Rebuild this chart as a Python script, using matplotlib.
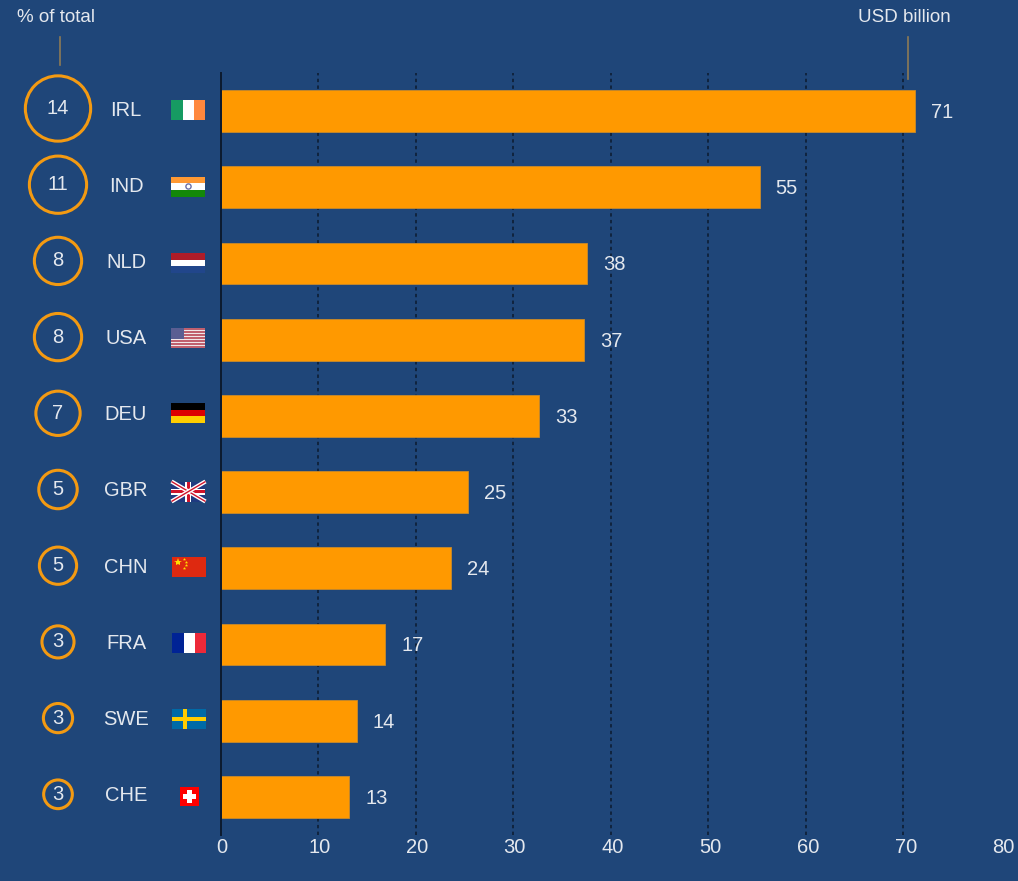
import matplotlib
matplotlib.use("Agg")
import matplotlib.pyplot as plt
from matplotlib.patches import Rectangle, Circle, Polygon
import numpy as np

countries = ["IRL", "IND", "NLD", "USA", "DEU", "GBR", "CHN", "FRA", "SWE", "CHE"]
usd_billion = [71.2, 55.3, 37.6, 37.3, 32.7, 25.4, 23.6, 16.9, 14.0, 13.2]
usd_labels = ["71", "55", "38", "37", "33", "25", "24", "17", "14", "13"]
pct_labels = ["14", "11", "8", "8", "7", "5", "5", "3", "3", "3"]
pct_share = [14.4, 11.2, 7.8, 7.8, 6.9, 5.3, 5.0, 3.8, 3.2, 3.1]
x_ticks = [0, 10, 20, 30, 40, 50, 60, 70, 80]

BG = "#1f4679"
ORANGE = "#ff9900"
TXT = "#e4e8ee"
W, H = 1018, 881
plt.rcParams["font.family"] = ["Liberation Sans", "DejaVu Sans"]

fig = plt.figure(figsize=(W / 100, H / 100), dpi=100, facecolor=BG)

def px_axes(x0, y0, x1, y1):
    return fig.add_axes([x0 / W, 1 - y1 / H, (x1 - x0) / W, (y1 - y0) / H])

# main chart
ax = px_axes(220.5, 73, 1000.5, 835)
ax.set_facecolor("none")
ax.set_xlim(0, 80)
ax.set_ylim(9.5, -0.5)
ypos = np.arange(len(countries))
for t in x_ticks[1:]:
    ax.axvline(t, color="#0c1a2e", lw=1.1, ls=(0, (2.2, 2.2)), zorder=1)
ax.barh(ypos, usd_billion, height=0.55, color=ORANGE, edgecolor="#c98a2a", lw=0.6, zorder=2)
for s in ["top", "right", "bottom"]:
    ax.spines[s].set_visible(False)
ax.spines["left"].set_color("#0c1a2e")
ax.spines["left"].set_linewidth(1.4)
ax.set_xticks([])
ax.set_yticks([])
for y, v, lab in zip(ypos, usd_billion, usd_labels):
    ax.annotate(lab, (v, y), xytext=(11.5, -1), textcoords="offset points", color=TXT,
                fontsize=14.5, va="center", ha="left", zorder=3)

# axis numbers
axb = px_axes(221.5, 835, 1003.5, 881)
axb.set_facecolor("none")
axb.set_xlim(0, 80)
axb.set_xticks(x_ticks)
axb.set_xticklabels([str(t) for t in x_ticks], color=TXT, fontsize=14.5)
axb.tick_params(axis="x", length=0, pad=15)
axb.xaxis.set_ticks_position("top")
axb.tick_params(axis="x", labeltop=False, labelbottom=True, pad=-31)
axb.set_yticks([])
for s in axb.spines.values():
    s.set_visible(False)

# overlay in pixel coordinates for circles, codes, flags and headers
ov = fig.add_axes([0, 0, 1, 1])
ov.set_xlim(0, W)
ov.set_ylim(H, 0)
ov.axis("off")
ov.patch.set_alpha(0)

def row_y(i):
    return 111 + 76.2 * i

for i, (code, lab, share) in enumerate(zip(countries, pct_labels, pct_share)):
    r = 9.0 * np.sqrt(share)
    cy = row_y(i) - 2.5
    ov.add_patch(Circle((58, cy), r - 1.5, fill=False, ec="#f39a12", lw=2.2))
    ov.text(58, cy, lab, color=TXT, fontsize=14.5, ha="center", va="center")
    ov.text(126, cy + 1.5, code, color=TXT, fontsize=14.5, ha="center", va="center")

def rect(x, y, w, h, c):
    ov.add_patch(Rectangle((x, y), w, h, fc=c, ec="none"))

def stripes_v(x, y, w, h, cols):
    for k, c in enumerate(cols):
        rect(x + k * w / len(cols), y, w / len(cols), h, c)

def stripes_h(x, y, w, h, cols):
    for k, c in enumerate(cols):
        rect(x, y + k * h / len(cols), w, h / len(cols), c)

fw = 34
fh = 20
stripes_v(171.5, 100, fw, fh, ["#169b62", "#ffffff", "#ff883e"])
stripes_h(171.5, 176.5, fw, fh, ["#ff9933", "#ffffff", "#138808"])
ov.add_patch(Circle((188.5, 186.5), 2.6, fc="none", ec="#6a6fa8", lw=1))
stripes_h(171.5, 253, fw, fh, ["#ae1c28", "#ffffff", "#21468b"])
# USA
stripes_h(171.5, 328, fw, fh, ["#c0606e", "#f0e6e8"] * 6 + ["#c0606e"])
rect(171.5, 328, 13, 11, "#5a5e92")
stripes_h(171.5, 403, fw, fh, ["#000000", "#dd0000", "#ffce00"])
# GBR
rect(171.5, 481.5, fw, fh, "#1f3a80")
for a, b in [((171.5, 481.5), (205.5, 501.5)), ((171.5, 501.5), (205.5, 481.5))]:
    ov.plot([a[0], b[0]], [a[1], b[1]], color="#ffffff", lw=3, solid_capstyle="butt")
    ov.plot([a[0], b[0]], [a[1], b[1]], color="#cf142b", lw=1, solid_capstyle="butt")
rect(171.5, 488.5, fw, 6, "#ffffff")
rect(185.5, 481.5, 6, fh, "#ffffff")
rect(171.5, 490, fw, 3, "#cf142b")
rect(187, 481.5, 3, fh, "#cf142b")
# CHN
rect(172.5, 557, fw, fh, "#de2910")
ov.plot([178], [562], marker="*", ms=6, color="#ffde00", mew=0)
for dx, dy in [(184, 559), (186, 562), (186, 565), (184, 568)]:
    ov.plot([dx], [dy], marker="*", ms=2.5, color="#ffde00", mew=0)
stripes_v(172.5, 632.5, fw, fh, ["#002395", "#ffffff", "#ed2939"])
# SWE
rect(172, 708.5, fw, 20, "#006aa7")
rect(172, 716.5, fw, 4, "#fecc00")
rect(183, 708.5, 4.5, 20, "#fecc00")
# CHE
rect(180, 786.5, 19.5, 19.5, "#ff0000")
rect(187.5, 790, 4.5, 12.5, "#ffffff")
rect(183.5, 794, 12.5, 4.5, "#ffffff")

ov.text(56, 18, "% of total", color=TXT, fontsize=13.5, ha="center", va="center")
ov.text(904, 18, "USD billion", color=TXT, fontsize=13.5, ha="center", va="center")
ov.plot([60, 60], [37, 65], color="#8d7a55", lw=1.2)
ov.plot([908, 908], [37, 79], color="#8d7a55", lw=1.2)

fig.savefig("out.png", dpi=100, facecolor=BG)
